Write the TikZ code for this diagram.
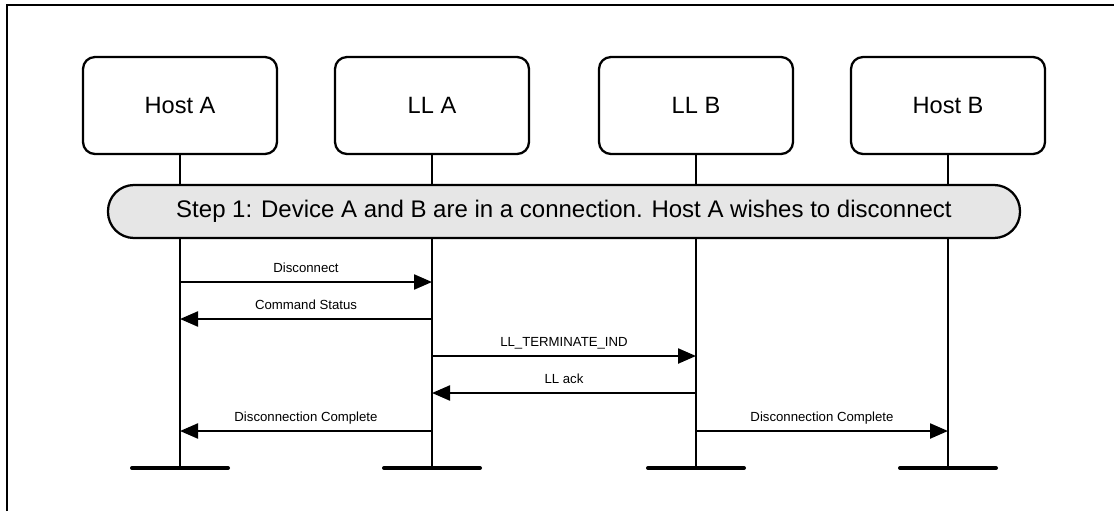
\documentclass[tikz,border=0pt]{standalone}
\usepackage{fontspec}
\setmainfont{Liberation Sans}
\usepackage{tikz}
\usetikzlibrary{arrows.meta,calc}
\definecolor{stepgray}{HTML}{E6E6E6}
\tikzset{
  entity/.style={draw, line width=1.7pt, rounded corners=9pt,
                 minimum width=145.5pt, minimum height=72.75pt,
                 font=\fontsize{17.7}{20}\selectfont},
  stepbar/.style={draw, fill=stepgray, line width=1.7pt, rounded corners=19.5pt,
                  minimum width=684pt, minimum height=39.75pt,
                  font=\fontsize{18}{20}\selectfont},
  life/.style={line width=1.6pt},
  endbar/.style={line width=3pt, line cap=round},
  msg/.style={line width=1.7pt, -{Triangle[length=13.5pt,width=11.25pt]}},
  msglabel/.style={font=\fontsize{9.9}{12}\selectfont, inner sep=0pt,
                   text depth=0pt, above=6pt}
}

\begin{document}
\begin{tikzpicture}[x=0.75pt, y=-0.75pt]
    \useasboundingbox (0,0) rectangle (1114,511);
    % open frame
    \draw[line width=2.2pt] (7,511) -- (7,5) -- (1114,5);

    \node[entity] (hostA) at (180,105.5) {Host A};
    \node[entity] (llA) at (432,105.5) {LL A};
    \node[entity] (llB) at (696,105.5) {LL B};
    \node[entity] (hostB) at (948,105.5) {Host B};

    \coordinate (hostAend) at (180,468);
    \coordinate (llAend) at (432,468);
    \coordinate (llBend) at (696,468);
    \coordinate (hostBend) at (948,468);

    \draw[life] (hostA) -- (hostAend);
    \draw[life] (llA) -- (llAend);
    \draw[life] (llB) -- (llBend);
    \draw[life] (hostB) -- (hostBend);

    \draw[endbar] ([xshift=-36pt]hostAend) -- ([xshift=36pt]hostAend);
    \draw[endbar] ([xshift=-36pt]llAend) -- ([xshift=36pt]llAend);
    \draw[endbar] ([xshift=-36pt]llBend) -- ([xshift=36pt]llBend);
    \draw[endbar] ([xshift=-36pt]hostBend) -- ([xshift=36pt]hostBend);

    \node[stepbar] (step1) at (564,211.5)
        {Step 1: Device A and B are in a connection. Host A wishes to disconnect};

    % message rows
    \coordinate (r1) at (0,282);
    \coordinate (r2) at (0,319);
    \coordinate (r3) at (0,356);
    \coordinate (r4) at (0,393);
    \coordinate (r5) at (0,431);

    \draw[msg] (hostA |- r1) -- node[msglabel] {Disconnect} (llA |- r1);
    \draw[msg] (llA |- r2) -- node[msglabel] {Command Status} (hostA |- r2);
    \draw[msg] (llA |- r3) -- node[msglabel] {LL\_TERMINATE\_IND} (llB |- r3);
    \draw[msg] (llB |- r4) -- node[msglabel] {LL ack} (llA |- r4);
    \draw[msg] (llA |- r5) -- node[msglabel] {Disconnection Complete} (hostA |- r5);
    \draw[msg] (llB |- r5) -- node[msglabel] {Disconnection Complete} (hostB |- r5);
\end{tikzpicture}
\end{document}
